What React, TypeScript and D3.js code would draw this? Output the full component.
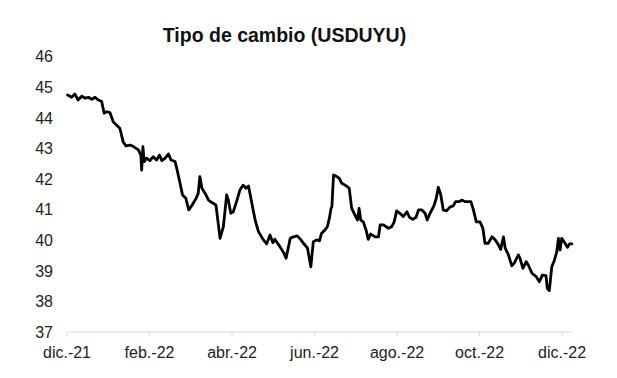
import React from "react";
import * as d3 from "d3";

const title = "Tipo de cambio (USDUYU)";
const xTickLabels = ["dic.-21", "feb.-22", "abr.-22", "jun.-22", "ago.-22", "oct.-22", "dic.-22"];
const xTickPos = [0, 2, 4, 6, 8, 10, 12];
const yTicks = [37, 38, 39, 40, 41, 42, 43, 44, 45, 46];

// months elapsed since start of dic.-21
const monthPos = [
  0.01, 0.11, 0.19, 0.27, 0.36, 0.44, 0.52, 0.6, 0.68, 0.76, 0.84, 0.9, 0.96, 1.04, 1.12, 1.2, 1.28, 1.36, 1.43, 1.53,
  1.61, 1.73, 1.79, 1.81, 1.84, 1.87, 1.93, 2.01, 2.09, 2.17, 2.24, 2.3, 2.38, 2.46, 2.52, 2.62, 2.67, 2.74, 2.8, 2.88,
  2.95, 3.02, 3.13, 3.18, 3.22, 3.27, 3.35, 3.43, 3.51, 3.61, 3.71, 3.79, 3.87, 3.91, 3.97, 4.03, 4.11, 4.19, 4.27, 4.34,
  4.4, 4.48, 4.56, 4.64, 4.76, 4.84, 4.92, 4.99, 5.04, 5.16, 5.26, 5.31, 5.41, 5.49, 5.58, 5.67, 5.73, 5.83, 5.91, 5.97,
  6.05, 6.12, 6.17, 6.25, 6.31, 6.36, 6.4, 6.42, 6.46, 6.54, 6.6, 6.66, 6.74, 6.84, 6.9, 6.98, 7.04, 7.08, 7.12, 7.18,
  7.25, 7.3, 7.36, 7.47, 7.55, 7.59, 7.67, 7.79, 7.87, 7.93, 7.99, 8.07, 8.15, 8.24, 8.3, 8.38, 8.46, 8.52, 8.6, 8.68,
  8.73, 8.8, 8.9, 8.95, 9.0, 9.06, 9.12, 9.2, 9.28, 9.36, 9.42, 9.5, 9.58, 9.65, 9.79, 9.85, 9.92, 10.01, 10.08, 10.13,
  10.21, 10.3, 10.38, 10.46, 10.51, 10.58, 10.62, 10.7, 10.78, 10.84, 10.94, 10.98, 11.05, 11.13, 11.18, 11.27, 11.37, 11.45, 11.52, 11.61,
  11.64, 11.69, 11.75, 11.81, 11.87, 11.91, 11.95, 11.99, 12.07, 12.13, 12.18, 12.24,
];
const usduyu = [
  44.75, 44.67, 44.78, 44.58, 44.71, 44.64, 44.67, 44.6, 44.67, 44.58, 44.53, 44.15, 44.2, 44.17, 43.87, 43.76, 43.66, 43.22, 43.08, 43.11,
  43.06, 42.95, 42.78, 42.29, 43.06, 42.57, 42.68, 42.6, 42.73, 42.62, 42.78, 42.6, 42.68, 42.82, 42.62, 42.57, 42.29, 41.86, 41.48, 41.37,
  40.99, 41.12, 41.37, 41.53, 42.08, 41.7, 41.53, 41.31, 41.23, 41.15, 40.06, 40.44, 41.48, 41.31, 40.88, 40.93, 41.26, 41.64, 41.8, 41.7,
  41.77, 41.21, 40.66, 40.28, 40.01, 39.88, 40.17, 39.92, 40.03, 39.79, 39.57, 39.41, 40.06, 40.11, 40.14, 40.01, 39.9, 39.74, 39.13, 39.95,
  40.01, 39.98, 40.23, 40.33, 40.44, 40.72, 41.04, 41.09, 42.13, 42.08, 42.02, 41.86, 41.8, 41.7, 41.04, 40.82, 40.66, 41.04, 40.66, 40.6,
  40.33, 40.03, 40.2, 40.11, 40.11, 40.5, 40.5, 40.39, 40.44, 40.6, 40.96, 40.88, 40.77, 40.93, 40.75, 40.68, 40.75, 40.99, 40.99, 40.88,
  40.66, 40.88, 41.15, 41.37, 41.73, 41.48, 40.99, 40.96, 41.08, 41.12, 41.26, 41.26, 41.31, 41.26, 41.26, 40.99, 40.6, 40.6, 40.39, 39.9,
  39.9, 40.11, 40.01, 39.84, 39.7, 40.11, 39.74, 39.52, 39.16, 39.25, 39.52, 39.41, 39.08, 39.3, 39.19, 38.92, 38.81, 38.64, 38.86, 38.84,
  38.43, 38.35, 39.13, 39.33, 39.62, 40.06, 39.68, 40.06, 39.9, 39.77, 39.88, 39.88,
];

const W = 617;
const H = 378;
const FONT = "'Liberation Sans', Arial, sans-serif";

export default function App() {
  const x = d3.scaleLinear().domain([0, 12.24]).range([67, 572]);
  const y = d3.scaleLinear().domain([37, 46]).range([332, 56.6]);
  const pts: [number, number][] = monthPos.map((m, i) => [m, usduyu[i]]);
  const line = d3
    .line<[number, number]>()
    .x((d) => x(d[0]))
    .y((d) => y(d[1]));

  return (
    <svg
      width={W}
      height={H}
      style={{ position: "absolute", left: 0, top: 0, background: "#fff" }}
      fontFamily={FONT}
    >
      <text x={284.5} y={41.5} textAnchor="middle" fontSize={19.5} fontWeight="bold" fill="#111">
        {title}
      </text>
      {yTicks.map((t) => (
        <text key={t} x={53} y={y(t)} dy="0.36em" textAnchor="end" fontSize={16} fill="#222">
          {t}
        </text>
      ))}
      <line x1={x(0)} x2={x(12.24)} y1={y(37)} y2={y(37)} stroke="#d9d9d9" strokeWidth={1} />
      {xTickPos.map((p, i) => (
        <g key={p}>
          <line x1={x(p)} x2={x(p)} y1={y(37)} y2={y(37) + 4} stroke="#d9d9d9" strokeWidth={1} />
          <text x={x(p)} y={358} textAnchor="middle" fontSize={16} fill="#222">
            {xTickLabels[i]}
          </text>
        </g>
      ))}
      <path
        d={line(pts) || ""}
        fill="none"
        stroke="#000"
        strokeWidth={2.8}
        strokeLinejoin="round"
        strokeLinecap="round"
      />
    </svg>
  );
}
